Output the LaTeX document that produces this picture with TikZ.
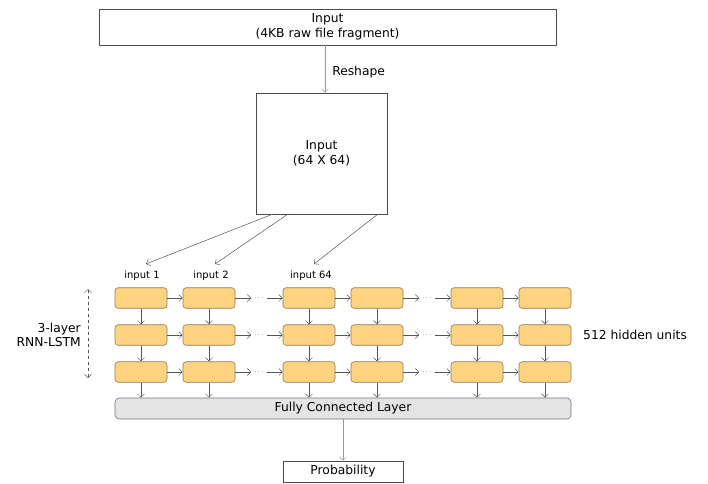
\documentclass[tikz,border=0pt]{standalone}
\usepackage{fontspec}
\setmainfont{DejaVu Sans}
\usetikzlibrary{arrows.meta}
\definecolor{cellfill}{HTML}{FFD37F}
\definecolor{celldraw}{HTML}{8C7A5C}
\definecolor{fcfill}{HTML}{E4E4E4}
\definecolor{arr}{HTML}{555555}
\begin{document}
\begin{tikzpicture}[x=1pt,y=-1pt,
  every node/.style={font=\fontsize{12.3}{14.5}\selectfont, inner sep=0pt, align=center},
  plainbox/.style={draw=black!70, fill=white, line width=0.6pt},
  cell/.style={draw=celldraw, fill=cellfill, rounded corners=3pt, line width=0.6pt, minimum width=52pt, minimum height=20.5pt},
  fcbox/.style={draw=black!55, fill=fcfill, rounded corners=4pt, line width=0.6pt, minimum width=456pt, minimum height=21pt},
  conn/.style={draw=arr, line width=0.5pt, -{Straight Barb[length=3.5pt,width=7pt]}},
  lbl/.style={font=\fontsize{10}{12}\selectfont},
  dots/.style={font=\fontsize{6}{8}\selectfont, inner xsep=3pt, inner ysep=1pt}
]
\useasboundingbox (0,0) rectangle (708,483);

\node[plainbox, minimum width=457pt, minimum height=36pt] (top) at (327.5,27) {Input\\(4KB raw file fragment)};
\node[plainbox, minimum width=131pt, minimum height=121pt] (big) at (321.5,153.5) {Input\\(64 X 64)};
\draw[conn, draw=black!40] (top.south -| 325,0) -- node[right=7pt, yshift=-3pt] {Reshape} (big.north -| 325,0);

\node[lbl] (in1) at (142,276) {input 1};
\node[lbl] (in2) at (211,276) {input 2};
\node[lbl] (in64) at (311,276) {input 64};
\coordinate (b1) at (273,214);
\coordinate (b2) at (288,214);
\coordinate (b3) at (378,214);
\draw[conn] (b1) -- ([xshift=4pt,yshift=7pt]in1.north);
\draw[conn] (b2) -- ([xshift=4pt,yshift=7pt]in2.north);
\draw[conn] (b3) -- ([xshift=3pt,yshift=7pt]in64.north);

% cells
\foreach \c/\x in {1/141,2/209,3/309,4/377,5/477,6/545}{
  \foreach \r/\y in {1/298,2/335,3/372}{
    \node[cell] (c\r\c) at (\x,\y) {};
  }
}
\node[fcbox] (fc) at (343,408.5) {Fully Connected Layer};
\node[plainbox, minimum width=120pt, minimum height=21pt] (prob) at (343,471.5) {Probability};

\foreach \r/\y in {1/298,2/335,3/372}{
  \node[dots] (da\r) at (259,\y) {$\cdots$};
  \node[dots] (db\r) at (427,\y) {$\cdots$};
  \draw[conn] (c\r1) -- (c\r2);
  \draw[conn] (c\r2) -- (da\r);
  \draw[conn] (da\r) -- (c\r3);
  \draw[conn] (c\r3) -- (c\r4);
  \draw[conn] (c\r4) -- (db\r);
  \draw[conn] (db\r) -- (c\r5);
  \draw[conn] (c\r5) -- (c\r6);
}
\foreach \c in {1,...,6}{
  \draw[conn] (c1\c) -- (c2\c);
  \draw[conn] (c2\c) -- (c3\c);
  \draw[conn] (c3\c.south) -- (c3\c.south |- fc.north);
}
\draw[conn, draw=black!40] (fc) -- (prob);

\node[anchor=east, align=right] (layers) at (81,335) {3-layer\\RNN-LSTM};
\coordinate (u) at (88,289);
\coordinate (d) at (88,378);
\draw[draw=arr, line width=0.5pt, dashed, {Straight Barb[length=3.5pt,width=7pt]}-{Straight Barb[length=3.5pt,width=7pt]}] (u) -- (d);
\node[anchor=west] (hid) at (583,335) {512 hidden units};
\end{tikzpicture}
\end{document}
